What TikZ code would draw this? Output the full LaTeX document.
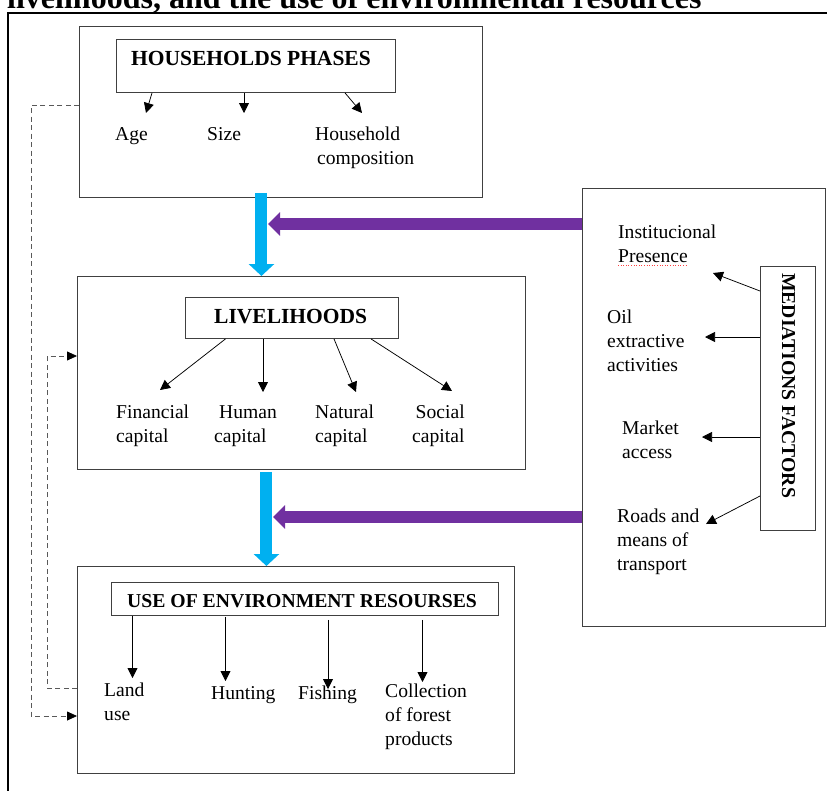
\documentclass[tikz,border=0pt]{standalone}
\usepackage{fontspec}
\setmainfont{Liberation Serif}
\usetikzlibrary{arrows.meta,calc}
\definecolor{arrowblue}{HTML}{00B0F0}
\definecolor{arrowpurple}{HTML}{7030A0}
\definecolor{boxgray}{HTML}{404040}
\newcommand\lblfont{\fontsize{19.6}{24}\selectfont}
\newcommand\hdfont{\fontsize{21.5}{26}\selectfont\bfseries}
\newcommand\hdsmall{\fontsize{19.7}{24}\selectfont\bfseries}
\newcommand\ttlfont{\fontsize{32}{38}\selectfont\bfseries}
\newcommand\multiline[1]{\begin{tabular}[t]{@{}l@{}}#1\end{tabular}}
\begin{document}
\begin{tikzpicture}[x=1pt,y=-1pt,
  box/.style={draw=boxgray, line width=0.9pt, inner sep=0pt, anchor=north west},
  lbl/.style={font=\lblfont, inner sep=0pt, anchor=base west},
  hd/.style={font=\hdfont, inner sep=0pt, anchor=base west},
  hds/.style={font=\hdsmall, inner sep=0pt, anchor=base west},
  thinarrow/.style={line width=0.75pt, -{Triangle[length=10pt,width=10pt]}},
  bigblue/.style={draw=arrowblue, line width=12pt, -{Triangle[length=12pt,width=25pt]}},
  bigpurple/.style={draw=arrowpurple, line width=12pt, -{Triangle[length=12pt,width=23pt]}},
  dsh/.style={draw=black!65, line width=0.8pt, dash pattern=on 5pt off 3.5pt, -{Triangle[length=10pt,width=9pt,color=black]}}
]
\useasboundingbox (0,0) rectangle (827,790);
% title (cut off at top) and frame
\begin{scope}
\clip (0,0) rectangle (827,790);
\node[font=\ttlfont, inner sep=0pt, anchor=base west] (title) at (7,8) {livelihoods, and the use of environmental resources};
\draw[line width=1.2pt] (8,800) -- (8,13) -- (840,13);
\end{scope}

% ---------------- Households phases
\node[box, minimum width=403pt, minimum height=171pt] (hh) at (79,26) {};
\node[box, minimum width=279pt, minimum height=53pt] (hp) at (116,39) {};
\node[hd] (hpt) at (131,65) {HOUSEHOLDS PHASES};
\node[lbl] (age) at (115,140) {Age};
\node[lbl] (size) at (207,140) {Size};
\node[lbl] (hcomp) at (315,140) {\multiline{Household\\\hspace*{2pt}composition}};
\coordinate (tAge) at (146,113);
\coordinate (tSize) at (244,113);
\coordinate (tHc) at (362,113);
\draw[thinarrow] ($(hp.south west)+(36,0)$) -- (tAge);
\draw[thinarrow] ($(hp.south west)+(128,0)$) -- (tSize);
\draw[thinarrow] ($(hp.south west)+(229,0)$) -- (tHc);

% ---------------- Livelihoods
\node[box, minimum width=448pt, minimum height=193pt] (lv) at (77,276) {};
\node[box, minimum width=213pt, minimum height=41pt] (lvh) at (185,297) {};
\node[hd] (lvt) at (214,323) {LIVELIHOODS};
\node[lbl] (fin) at (116,418) {\multiline{Financial\\capital}};
\node[lbl] (hum) at (214,418) {\multiline{\hspace*{5pt}Human\\capital}};
\node[lbl] (nat) at (315,418) {\multiline{Natural\\capital}};
\node[lbl] (soc) at (412,418) {\multiline{\hspace*{3.5pt}Social\\capital}};
\coordinate (tFin) at (160,390);
\coordinate (tHum) at (263,392);
\coordinate (tNat) at (356,392);
\coordinate (tSoc) at (452,391);
\draw[thinarrow] ($(lvh.south west)+(40.5,0)$) -- (tFin);
\draw[thinarrow] ($(lvh.south west)+(78,0)$) -- (tHum);
\draw[thinarrow] ($(lvh.south west)+(149,0)$) -- (tNat);
\draw[thinarrow] ($(lvh.south west)+(186,0)$) -- (tSoc);

% ---------------- Use of environment resources
\node[box, minimum width=437pt, minimum height=207pt] (use) at (77,566) {};
\node[box, minimum width=387pt, minimum height=33pt] (usei) at (111,582) {};
\node[hds] (uset) at (127,607) {USE OF ENVIRONMENT RESOURSES};
\node[lbl] (land) at (104,696) {\multiline{Land\\use}};
\node[lbl] (hunt) at (211,699) {Hunting};
\node[lbl] (fish) at (298,699) {Fishing};
\node[lbl] (coll) at (385,697) {\multiline{Collection\\of forest\\products}};
\coordinate (tLand) at (132.5,678);
\coordinate (tHunt) at (225.5,681);
\coordinate (tFish) at (328,689);
\coordinate (tColl) at (422.5,682);
\draw[thinarrow] ($(usei.south west)+(21.5,0)$) -- (tLand);
\draw[thinarrow] ($(usei.south west)+(114.5,1)$) -- (tHunt);
\draw[thinarrow] ($(usei.south west)+(217,4)$) -- (tFish);
\draw[thinarrow] ($(usei.south west)+(311.5,4)$) -- (tColl);

% ---------------- Mediations factors
\node[box, minimum width=243pt, minimum height=438pt] (med) at (582,188) {};
\node[box, minimum width=55pt, minimum height=264pt] (mf) at (760,266) {};
\node[hds, rotate=-90] (mft) at (782,273) {MEDIATIONS FACTORS};
\node[lbl] (inst) at (618,238) {\multiline{Institucional\\Presence}};
\draw[red!75, line width=0.6pt, dotted] (618,265) -- (688,265);
\node[lbl] (oil) at (607,323) {\multiline{Oil\\extractive\\activities}};
\node[lbl] (mkt) at (622,434) {\multiline{Market\\access}};
\node[lbl] (road) at (617,522) {\multiline{Roads and\\means of\\transport}};
\coordinate (tInst) at (713,273);
\coordinate (tOil) at (705,337);
\coordinate (tMkt) at (702,437);
\coordinate (tRoad) at (706,524);
\draw[thinarrow] ($(mf.north west)+(0,25)$) -- (tInst);
\draw[thinarrow] ($(mf.north west)+(0,71)$) -- (tOil);
\draw[thinarrow] ($(mf.north west)+(0,171)$) -- (tMkt);
\draw[thinarrow] ($(mf.north west)+(0,230)$) -- (tRoad);

% ---------------- big arrows
\draw[bigblue] ($(hh.south)+(-19.5,-5)$) -- ($(lv.north)+(-40,0)$);
\draw[bigblue] ($(lv.south)+(-35,2)$) -- ($(use.north)+(-29.5,0)$);
\coordinate (p1) at (268,224);
\coordinate (p2) at (273,517);
\draw[bigpurple] (med.west |- p1) -- (p1);
\draw[bigpurple] (med.west |- p2) -- (p2);

% ---------------- dashed feedback lines
\coordinate (d1a) at (31,105);
\coordinate (d1b) at (31,716);
\draw[dsh] (hh.west |- d1a) -- (d1a) -- (d1b) -- (use.west |- d1b);
\coordinate (d2a) at (47,688);
\coordinate (d2b) at (47,356);
\draw[dsh] (use.west |- d2a) -- (d2a) -- (d2b) -- (lv.west |- d2b);
\end{tikzpicture}
\end{document}
